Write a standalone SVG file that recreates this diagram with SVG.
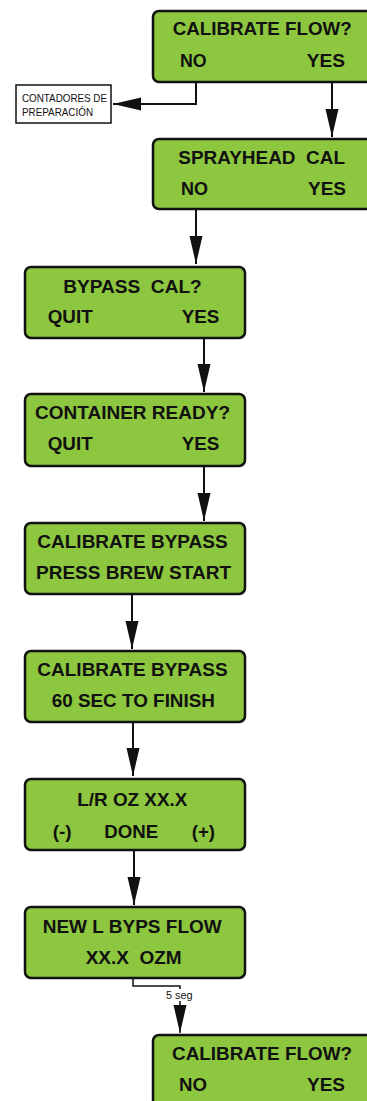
<svg xmlns="http://www.w3.org/2000/svg" width="367" height="1101" viewBox="0 0 367 1101">
<defs>
<style>
.box{fill:#8DC63F;stroke:#111;stroke-width:2.5}
.t{font-family:"Liberation Sans",Arial,sans-serif;font-weight:bold;font-size:18.5px;fill:#111}
.s{font-family:"Liberation Sans",Arial,sans-serif;font-size:11.5px;fill:#111}
.ln{fill:none;stroke:#111;stroke-width:2}
</style>
<marker id="ah" markerUnits="userSpaceOnUse" markerWidth="30" markerHeight="14" refX="28" refY="6.5" orient="auto" viewBox="0 0 30 14">
<path d="M0,0 L28,6.5 L0,13 Z" fill="#111"/>
</marker>
</defs>
<rect width="367" height="1101" fill="#fff"/>
<g id="connectors">
<path class="ln" d="M196,82 V104 H113" marker-end="url(#ah)"/>
<path class="ln" d="M332,82 V137" marker-end="url(#ah)"/>
<path class="ln" d="M196,209 V264" marker-end="url(#ah)"/>
<path class="ln" d="M204,338 V392" marker-end="url(#ah)"/>
<path class="ln" d="M204,466 V521" marker-end="url(#ah)"/>
<path class="ln" d="M132,594 V649" marker-end="url(#ah)"/>
<path class="ln" d="M133,722 V776" marker-end="url(#ah)"/>
<path class="ln" d="M134,850 V905" marker-end="url(#ah)"/>
<path class="ln" style="stroke-width:1.5" d="M133,978 V986 H180 V1033" marker-end="url(#ah)"/>
<rect x="165" y="989" width="29" height="12" fill="#fff"/>
<text class="s" x="166" y="998.5" textLength="26.7" lengthAdjust="spacingAndGlyphs">5 seg</text>
</g>
<g id="contadores">
<rect x="16" y="85" width="95" height="38" fill="#fff" stroke="#111" stroke-width="1.5"/>
<text class="s" x="22" y="101.5" textLength="85" lengthAdjust="spacingAndGlyphs">CONTADORES DE</text>
<text class="s" x="22" y="115.5" textLength="71" lengthAdjust="spacingAndGlyphs">PREPARACIÓN</text>
</g>
<g id="calibrate-flow-1">
<rect class="box" x="153" y="11" width="222" height="71" rx="6"/>
<text class="t" x="172.7" y="35" textLength="179" lengthAdjust="spacingAndGlyphs">CALIBRATE FLOW?</text>
<text class="t" x="180" y="67" textLength="26.7" lengthAdjust="spacingAndGlyphs">NO</text>
<text class="t" x="306.7" y="67" textLength="38.3" lengthAdjust="spacingAndGlyphs">YES</text>
</g>
<g id="sprayhead-cal">
<rect class="box" x="153" y="139" width="222" height="70" rx="6"/>
<text class="t" x="178.3" y="164" textLength="166.7" lengthAdjust="spacingAndGlyphs" xml:space="preserve">SPRAYHEAD  CAL</text>
<text class="t" x="181" y="195" textLength="27" lengthAdjust="spacingAndGlyphs">NO</text>
<text class="t" x="308" y="195" textLength="38" lengthAdjust="spacingAndGlyphs">YES</text>
</g>
<g id="bypass-cal">
<rect class="box" x="25" y="267" width="220" height="71" rx="6"/>
<text class="t" x="63.3" y="293" textLength="138.4" lengthAdjust="spacingAndGlyphs" xml:space="preserve">BYPASS  CAL?</text>
<text class="t" x="47.7" y="323" textLength="45" lengthAdjust="spacingAndGlyphs">QUIT</text>
<text class="t" x="181.7" y="323" textLength="37.6" lengthAdjust="spacingAndGlyphs">YES</text>
</g>
<g id="container-ready">
<rect class="box" x="25" y="394" width="220" height="72" rx="6"/>
<text class="t" x="35" y="419" textLength="195" lengthAdjust="spacingAndGlyphs">CONTAINER READY?</text>
<text class="t" x="47.7" y="450" textLength="45" lengthAdjust="spacingAndGlyphs">QUIT</text>
<text class="t" x="181.7" y="450" textLength="37.6" lengthAdjust="spacingAndGlyphs">YES</text>
</g>
<g id="press-brew-start">
<rect class="box" x="25" y="523" width="220" height="71" rx="6"/>
<text class="t" x="37.3" y="548" textLength="190.4" lengthAdjust="spacingAndGlyphs">CALIBRATE BYPASS</text>
<text class="t" x="36" y="579" textLength="195" lengthAdjust="spacingAndGlyphs">PRESS BREW START</text>
</g>
<g id="sec-to-finish">
<rect class="box" x="25" y="651" width="220" height="71" rx="6"/>
<text class="t" x="37.3" y="676" textLength="190.4" lengthAdjust="spacingAndGlyphs">CALIBRATE BYPASS</text>
<text class="t" x="51.7" y="707" textLength="163.3" lengthAdjust="spacingAndGlyphs">60 SEC TO FINISH</text>
</g>
<g id="lr-oz">
<rect class="box" x="25" y="779" width="220" height="71" rx="6"/>
<text class="t" x="77.3" y="806" textLength="110" lengthAdjust="spacingAndGlyphs">L/R OZ XX.X</text>
<text class="t" x="52.7" y="838" textLength="19" lengthAdjust="spacingAndGlyphs">(-)</text>
<text class="t" x="104.3" y="838" textLength="54" lengthAdjust="spacingAndGlyphs">DONE</text>
<text class="t" x="191.7" y="838" textLength="23.3" lengthAdjust="spacingAndGlyphs">(+)</text>
</g>
<g id="new-bypass-flow">
<rect class="box" x="25" y="907" width="220" height="71" rx="6"/>
<text class="t" x="42.7" y="933" textLength="179" lengthAdjust="spacingAndGlyphs">NEW L BYPS FLOW</text>
<text class="t" x="85.7" y="964" textLength="96" lengthAdjust="spacingAndGlyphs" xml:space="preserve">XX.X  OZM</text>
</g>
<g id="calibrate-flow-2">
<rect class="box" x="153" y="1035" width="222" height="71" rx="6"/>
<text class="t" x="172" y="1060" textLength="180" lengthAdjust="spacingAndGlyphs">CALIBRATE FLOW?</text>
<text class="t" x="179" y="1091" textLength="28" lengthAdjust="spacingAndGlyphs">NO</text>
<text class="t" x="307" y="1091" textLength="38" lengthAdjust="spacingAndGlyphs">YES</text>
</g>
</svg>
